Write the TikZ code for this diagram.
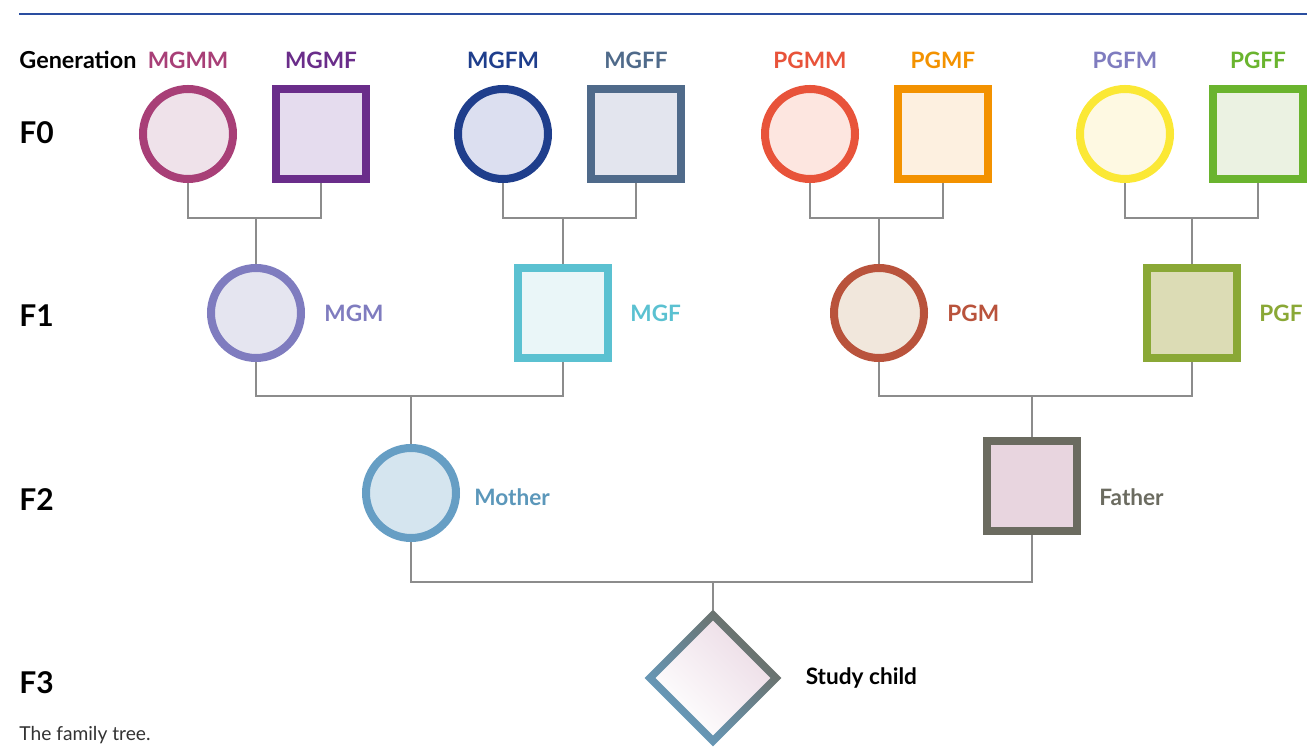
\documentclass[tikz,border=0pt]{standalone}
\usepackage{fontspec}
\setmainfont{Lato}
\usetikzlibrary{positioning,shapes.geometric,calc,backgrounds}

\definecolor{rule}{HTML}{2A4EA0}
\definecolor{linkgray}{HTML}{8C8C8C}
\definecolor{mgmm}{HTML}{A83F77}
\definecolor{mgmf}{HTML}{6A2D8A}
\definecolor{mgfm}{HTML}{1F3E8C}
\definecolor{mgff}{HTML}{4F6A8A}
\definecolor{pgmm}{HTML}{E8533A}
\definecolor{pgmf}{HTML}{F39200}
\definecolor{pgfm}{HTML}{FBE835}
\definecolor{pgfmtext}{HTML}{7F7CBF}
\definecolor{pgff}{HTML}{6AB42E}
\definecolor{mgm}{HTML}{7F7CBF}
\definecolor{mgf}{HTML}{5BC1D1}
\definecolor{pgm}{HTML}{B9533C}
\definecolor{pgf}{HTML}{8AA836}
\definecolor{mother}{HTML}{669EC4}
\definecolor{mothertext}{HTML}{5B97BA}
\definecolor{father}{HTML}{6B6B60}
\definecolor{childpink}{HTML}{ECDCE6}
% fills
\definecolor{mgmmfill}{HTML}{EFE2EA}
\definecolor{mgmffill}{HTML}{E5DCEE}
\definecolor{mgfmfill}{HTML}{DCDFF0}
\definecolor{mgfffill}{HTML}{E3E5EE}
\definecolor{pgmmfill}{HTML}{FDE6E0}
\definecolor{pgmffill}{HTML}{FDF0E0}
\definecolor{pgfmfill}{HTML}{FEF9E2}
\definecolor{pgfffill}{HTML}{EBF2E2}
\definecolor{mgmfill}{HTML}{E5E5F0}
\definecolor{mgffill}{HTML}{EAF6F8}
\definecolor{pgmfill}{HTML}{F1E7DC}
\definecolor{pgffill}{HTML}{DCDCB5}
\definecolor{motherfill}{HTML}{D5E5EF}
\definecolor{fatherfill}{HTML}{E8D5DF}

\begin{document}
\begin{tikzpicture}[x=0.5pt,y=-0.5pt,node distance=66.5pt,
                    font=\bfseries\fontsize{11.3}{13}\selectfont]
  \tikzstyle{fem}=[circle,line width=4pt,minimum size=45pt,inner sep=0pt]
  \tikzstyle{male}=[rectangle,line width=4pt,minimum size=45pt,inner sep=0pt]
  \tikzstyle{gen}=[anchor=west,inner sep=0pt,font=\bfseries\fontsize{15}{17}\selectfont]
  \tikzstyle{tag}=[inner sep=0pt]
  \tikzstyle{link}=[draw=linkgray,line width=1pt]

  \useasboundingbox (0,0) rectangle (1307,747);
  \draw[rule,line width=0.75pt] (19,14) -- (1307,14);

  % generation column
  \node[tag,anchor=west,font=\bfseries\fontsize{11.7}{13}\selectfont] (gen) at (19,60) {Generation};
  \node[gen] (F0) at (19,133) {F0};
  \node[gen] (F1) at (19,316) {F1};
  \node[gen] (F2) at (19,500) {F2};
  \node[gen] (F3) at (19,683) {F3};

  % F0
  \node[fem,draw=mgmm,fill=mgmmfill]  (MGMM) at (188,134) {};
  \node[male,draw=mgmf,fill=mgmffill] (MGMF) [right of=MGMM] {};
  \node[fem,draw=mgfm,fill=mgfmfill]  (MGFM) at (503,134) {};
  \node[male,draw=mgff,fill=mgfffill] (MGFF) [right of=MGFM] {};
  \node[fem,draw=pgmm,fill=pgmmfill]  (PGMM) at (810,134) {};
  \node[male,draw=pgmf,fill=pgmffill] (PGMF) [right of=PGMM] {};
  \node[fem,draw=pgfm,fill=pgfmfill]  (PGFM) at (1125,134) {};
  \node[male,draw=pgff,fill=pgfffill] (PGFF) [right of=PGFM] {};

  \node[tag,text=mgmm]     (lMGMM) [above=8pt of MGMM] {MGMM};
  \node[tag,text=mgmf]     (lMGMF) [above=8pt of MGMF] {MGMF};
  \node[tag,text=mgfm]     (lMGFM) [above=8pt of MGFM] {MGFM};
  \node[tag,text=mgff]     (lMGFF) [above=8pt of MGFF] {MGFF};
  \node[tag,text=pgmm]     (lPGMM) [above=8pt of PGMM] {PGMM};
  \node[tag,text=pgmf]     (lPGMF) [above=8pt of PGMF] {PGMF};
  \node[tag,text=pgfmtext] (lPGFM) [above=8pt of PGFM] {PGFM};
  \node[tag,text=pgff]     (lPGFF) [above=8pt of PGFF] {PGFF};

  % F1
  \node[fem,draw=mgm,fill=mgmfill]  (MGM) at (256,313) {};
  \node[male,draw=mgf,fill=mgffill] (MGF) at (563,313) {};
  \node[fem,draw=pgm,fill=pgmfill]  (PGM) at (879,313) {};
  \node[male,draw=pgf,fill=pgffill] (PGF) at (1192,313) {};

  \node[tag,text=mgm] (lMGM) [right=9.5pt of MGM] {MGM};
  \node[tag,text=mgf] (lMGF) [right=9pt of MGF] {MGF};
  \node[tag,text=pgm] (lPGM) [right=9.5pt of PGM] {PGM};
  \node[tag,text=pgf] (lPGF) [right=9pt of PGF] {PGF};

  % F2
  \node[fem,draw=mother,fill=motherfill]  (Mother) at (411,493) {};
  \node[male,draw=father,fill=fatherfill] (Father) at (1032,486) {};

  \node[tag,text=mothertext] (lMother) [right=7pt of Mother,yshift=-2pt] {Mother};
  \node[tag,text=father]     (lFather) [right=9pt of Father,yshift=-5.5pt] {Father};

  % F3
  \node[diamond,aspect=1,minimum size=68pt,inner sep=0pt] (child) at (713,678) {};
  \shade[bottom color=mother,top color=father,shading angle=-45]
    (child.north) -- (child.east) -- (child.south) -- (child.west) -- cycle;
  \shade[bottom color=white,top color=childpink,shading angle=-45]
    ($(child.north)+(0,11)$) -- ($(child.east)+(-11,0)$) --
    ($(child.south)+(0,-11)$) -- ($(child.west)+(11,0)$) -- cycle;
  \node[tag] (lchild) [right=12pt of child] {Study child};

  \node[tag,anchor=west,font=\fontsize{9.6}{11}\selectfont,text=black!80] (caption)
    at (19,735) {The family tree.};

  % junctions
  \coordinate (j1) at (256,218);
  \coordinate (j2) at (563,218);
  \coordinate (j3) at (879,218);
  \coordinate (j4) at (1192,218);
  \coordinate (j5) at (411,396);
  \coordinate (j6) at (1032,396);
  \coordinate (j7) at (713,582);

  \begin{scope}[on background layer]
    \draw[link] (MGMM) |- (j1) -| (MGMF);
    \draw[link] (MGFM) |- (j2) -| (MGFF);
    \draw[link] (PGMM) |- (j3) -| (PGMF);
    \draw[link] (PGFM) |- (j4) -| (PGFF);
    \draw[link] (j1) -- (MGM);
    \draw[link] (j2) -- (MGF);
    \draw[link] (j3) -- (PGM);
    \draw[link] (j4) -- (PGF);
    \draw[link] (MGM) |- (j5) -| (MGF);
    \draw[link] (PGM) |- (j6) -| (PGF);
    \draw[link] (j5) -- (Mother);
    \draw[link] (j6) -- (Father);
    \draw[link] (Mother) |- (j7) -| (Father);
    \draw[link] (j7) -- (child);
  \end{scope}
\end{tikzpicture}
\end{document}
